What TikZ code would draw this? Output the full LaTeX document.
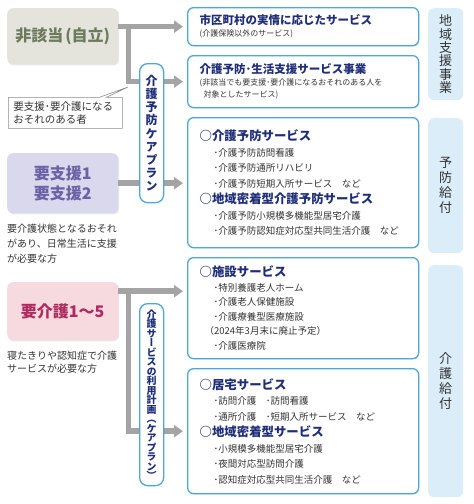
\documentclass[tikz,border=0pt]{standalone}
\usepackage{fontspec}
\setmainfont{Noto Sans CJK JP}
\newfontfamily\vfont[RawFeature=+vert]{Noto Sans CJK JP}
\usetikzlibrary{arrows.meta,positioning,calc,shapes.callouts,shadows}
\definecolor{navy}{HTML}{1F2E78}
\definecolor{skyline}{HTML}{4FA6DA}
\definecolor{skyfill}{HTML}{DBEDF9}
\definecolor{arrgray}{HTML}{A4A4A4}
\definecolor{olivebox}{HTML}{E4E4DC}
\definecolor{olivetxt}{HTML}{6E7A5E}
\definecolor{lavbox}{HTML}{DAD8ED}
\definecolor{lavtxt}{HTML}{6A62A7}
\definecolor{pinkbox}{HTML}{F6DAE0}
\definecolor{pinktxt}{HTML}{AE2A5F}
\definecolor{inktxt}{HTML}{333333}
\newcommand{\svhead}[1]{{\fontsize{12.4}{15}\selectfont\bfseries\color{navy}#1}}
\newcommand{\svtitle}[1]{{\fontsize{11.5}{12}\selectfont\bfseries\color{navy}#1}}
\newcommand{\svsub}[1]{{\fontsize{8}{12}\selectfont#1}}
\newcommand{\svitem}{\hspace*{14pt}･}

\begin{document}
\lineskiplimit=-20pt
\begin{tikzpicture}[x=1pt,y=-1pt,
lvl/.style={rounded corners=6pt,minimum width=111pt,anchor=north west,align=center,inner sep=0pt,
font=\fontsize{16}{20}\selectfont\bfseries,drop shadow={opacity=.18,shadow xshift=1pt,shadow yshift=-1.2pt}},
remark/.style={anchor=north west,align=left,inner sep=0pt,text=inktxt,font=\fontsize{10}{#1}\selectfont},
callbox/.style={rectangle callout,draw=black!45,line width=.6pt,fill=white,anchor=north west,minimum width=114pt,
minimum height=31pt,text width=104pt,inner xsep=5pt,inner ysep=0pt,align=left,text=inktxt,font=\fontsize{10.5}{13}\selectfont},
svc/.style={draw=skyline,line width=1.3pt,fill=white,rounded corners=6pt,minimum width=231pt,text width=207pt,
inner xsep=12pt,inner ysep=0pt,anchor=north west,align=left,text=inktxt,font=\fontsize{9.5}{#1}\selectfont,
drop shadow={opacity=.12,shadow xshift=.8pt,shadow yshift=-1pt}},
cat/.style={fill=skyfill,rounded corners=6pt,minimum width=35pt,anchor=north west,align=center,inner sep=0pt,
text=inktxt,font=\fontsize{13}{#1}\selectfont},
plan/.style={draw=skyline,line width=1.3pt,fill=white,rounded corners=8pt,minimum width=24pt,anchor=north west,
align=center,inner sep=0pt,text=navy},
arr/.style={draw=arrgray,line width=5.5pt,-{Triangle[length=9pt,width=12pt]},shorten >=4pt}]
\path[fill=white] (0,0) rectangle (474,504);
\useasboundingbox (0,0) rectangle (474,504);

\node[lvl,fill=olivebox,text=olivetxt,minimum height=56pt] (hig) at (7,8) {非該当\kern2pt(自立)};
\node[lvl,fill=lavbox,text=lavtxt,minimum height=60pt] (sup) at (7,153) {要支援1\\要支援2};
\node[lvl,fill=pinkbox,text=pinktxt,minimum height=58pt] (care) at (7,282) {要介護1〜5};
\node[callbox,callout absolute pointer={(128,87)}] (risk) at (8,97) {要支援･要介護になる\\おそれのある者};
\node[remark=15,below=10pt of sup.south west,anchor=north west] (supnote) {要介護状態となるおそれ\\があり、日常生活に支援\\が必要な方};
\node[remark=13.5,below=10pt of care.south west,anchor=north west] (carenote) {寝たきりや認知症で介護\\サービスが必要な方};

\node[svc=12,minimum height=38pt] (svc1) at (187,7) {\svtitle{市区町村の実情に応じたサービス}\\\svsub{(介護保険以外のサービス)}};
\node[svc=12,minimum height=52pt] (svc2) at (187,55) {\svtitle{介護予防･生活支援サービス事業}\\
\svsub{(非該当でも要支援･要介護になるおそれのある人を}\\\svsub{\hspace*{4pt}対象としたサービス)}};
\node[svc=15.5,minimum height=130pt] (prev) at (187,117) {\svhead{○介護予防サービス}\\
\svitem 介護予防訪問看護\\
\svitem 介護予防通所リハビリ\\
\svitem 介護予防短期入所サービス　など\\[1pt]
\svhead{○地域密着型介護予防サービス}\\
\svitem 介護予防小規模多機能型居宅介護\\
\svitem 介護予防認知症対応型共同生活介護　など};
\node[svc=14.5,minimum height=101pt] (inst) at (187,257) {\svhead{○施設サービス}\\
\svitem 特別養護老人ホーム\\
\svitem 介護老人保健施設\\
\svitem 介護療養型医療施設\\
\hspace*{5pt}（2024年3月末に廃止予定）\\
\svitem 介護医療院};
\node[svc=15.5,minimum height=125pt] (home) at (187,368) {\svhead{○居宅サービス}\\
\svitem 訪問介護　･訪問看護\\
\svitem 通所介護　･短期入所サービス　など\\[1pt]
\svhead{○地域密着型サービス}\\
\svitem 小規模多機能型居宅介護\\
\svitem 夜間対応型訪問介護\\
\svitem 認知症対応型共同生活介護　など};

\node[cat=13.4,minimum height=92pt] (regional) at (428,8) {地\\域\\支\\援\\事\\業};
\node[cat=15,minimum height=135pt] (prevpay) at (428,118) {予\\防\\給\\付};
\node[cat=15,minimum height=232pt] (carepay) at (428,265) {介\\護\\給\\付};

\coordinate (hfork) at ($(hig.east |- svc1.west)+(10pt,0)$);
\coordinate (cfork) at ($(care.east)+(10pt,20pt)$);
\draw[arr] (hig.east |- svc1.west) -- (svc1.west);
\draw[arr] (hfork) |- (svc2.west);
\draw[arr] (sup.east) -- (sup.east -| prev.west);
\draw[arr] ($(care.east)+(0,20pt)$) -- (cfork -| inst.west);
\draw[arr] (cfork) |- (home.west);

\node[plan,minimum height=139pt,font=\vfont\bfseries\fontsize{12}{13.1}\selectfont] (pplan) at (139,63)
{介\\護\\予\\防\\ケ\\ア\\プ\\ラ\\ン};
\node[plan,minimum height=182pt,font=\vfont\bfseries\fontsize{10}{9.5}\selectfont] (cplan) at (139,303)
{介\\護\\サ\\ー\\ビ\\ス\\の\\利\\用\\計\\画\\（\\ケ\\ア\\プ\\ラ\\ン\\）};
\end{tikzpicture}
\end{document}
